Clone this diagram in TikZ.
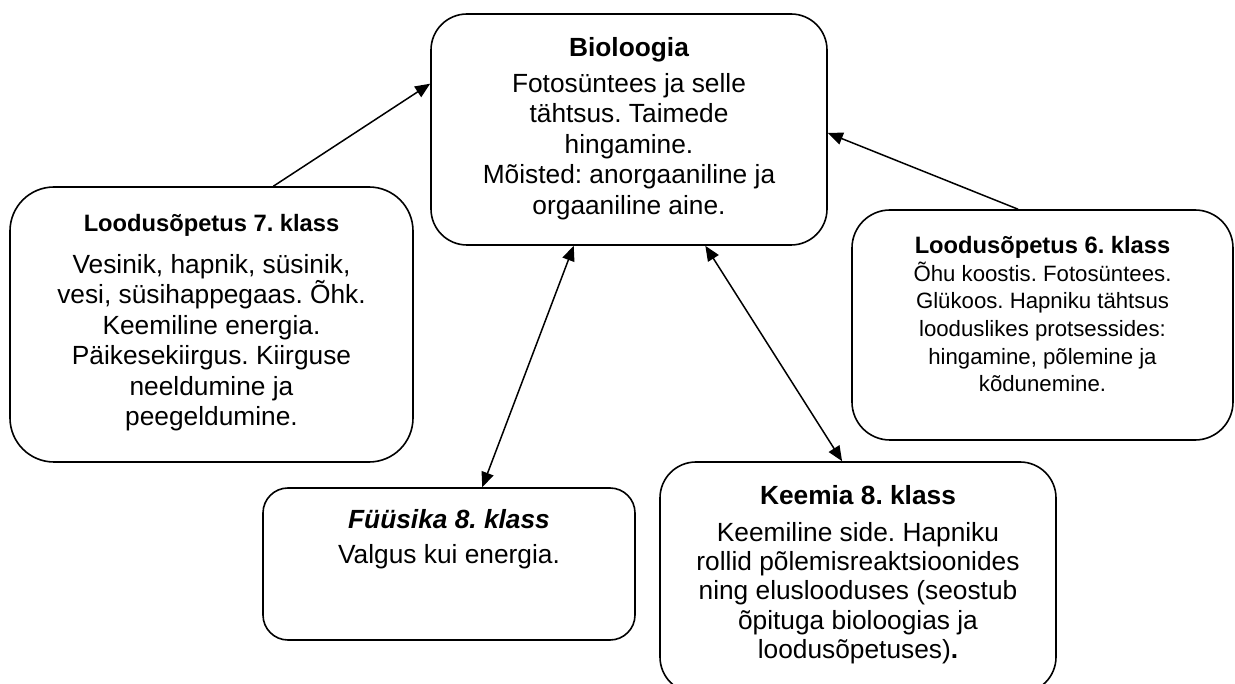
\documentclass[tikz,border=0pt]{standalone}
\usepackage{fontspec}
\setmainfont{Liberation Sans}
\usetikzlibrary{arrows.meta,calc}
\frenchspacing
\begin{document}
\begin{tikzpicture}[x=1pt,y=-1pt,
  box/.style={draw, line width=1.6pt, rounded corners=#1, inner sep=0pt},
  ttl/.style={anchor=base, inner sep=0pt, font=\bfseries\fontsize{26.3}{30}\selectfont},
  ttls/.style={anchor=base, inner sep=0pt, font=\bfseries\fontsize{23.7}{28}\selectfont},
  body/.style={anchor=base, inner sep=0pt},
  arr/.style={line width=1.5pt, -{Triangle[length=15pt,width=12.5pt]}},
  darr/.style={line width=1.5pt, {Triangle[length=15pt,width=12.5pt]}-{Triangle[length=15pt,width=12.5pt]}},
]
\useasboundingbox[fill=white] (0,0) rectangle (1235,684);

% boxes
\node[box=36pt, minimum width=396pt, minimum height=231pt] (bio) at (629,129.5) {};
\node[box=44pt, minimum width=403pt, minimum height=275pt] (l7) at (211.5,324.5) {};
\node[box=38pt, minimum width=381pt, minimum height=230pt] (l6) at (1042.5,325) {};
\node[box=25pt, minimum width=372pt, minimum height=152pt] (fy) at (449,564) {};
\node[box=36pt, minimum width=396pt, minimum height=231pt] (ke) at (858,577.5) {};

% Bioloogia
\node[ttl] (bioT) at ([yshift=-43pt]bio.north) {Bioloogia};
\node[body] (bioB) at ([yshift=-79pt]bio.north) {\parbox[t]{380pt}{\centering\fontsize{26.3}{30.5}\selectfont
Fotosüntees ja selle\\ tähtsus. Taimede\\ hingamine.\\ Mõisted: anorgaaniline ja\\ orgaaniline aine.}};

% Loodusõpetus 7
\node[ttls] (l7T) at ([yshift=-45pt]l7.north) {Loodusõpetus 7. klass};
\node[body] (l7B) at ([yshift=-87pt]l7.north) {\parbox[t]{390pt}{\centering\fontsize{26.3}{30.5}\selectfont
Vesinik, hapnik, süsinik,\\ vesi, süsihappegaas. Õhk.\\ Keemiline energia.\\ Päikesekiirgus. Kiirguse\\ neeldumine ja\\ peegeldumine.}};

% Loodusõpetus 6
\node[ttls] (l6T) at ([yshift=-44pt]l6.north) {Loodusõpetus 6. klass};
\node[body] (l6B) at ([yshift=-72pt]l6.north) {\parbox[t]{370pt}{\centering\fontsize{22.2}{27.7}\selectfont
Õhu koostis. Fotosüntees.\\ Glükoos. Hapniku tähtsus\\ looduslikes protsessides:\\ hingamine, põlemine ja\\ kõdunemine.}};

% Füüsika
\node[ttl, font=\bfseries\itshape\fontsize{26.3}{30}\selectfont] (fyT) at ([yshift=-41pt]fy.north) {Füüsika 8. klass};
\node[body] (fyB) at ([yshift=-76pt]fy.north) {\parbox[t]{360pt}{\centering\fontsize{26.3}{30.5}\selectfont
Valgus kui energia.}};

% Keemia
\node[ttl] (keT) at ([yshift=-43pt]ke.north) {Keemia 8. klass};
\node[body] (keB) at ([yshift=-80pt]ke.north) {\parbox[t]{385pt}{\centering\fontsize{26.3}{29.3}\selectfont
Keemiline side. Hapniku\\ rollid põlemisreaktsioonides\\ ning eluslooduses (seostub\\ õpituga bioloogias ja\\ loodusõpetuses)\textbf{.}}};

% connectors
\draw[arr] ($(l7.north west)!0.653!(l7.north east)$) -- ($(bio.north west)!0.303!(bio.south west)$);
\draw[arr] ($(l6.north west)!0.436!(l6.north east)$) -- ($(bio.north east)!0.515!(bio.south east)$);
\draw[darr] ($(bio.south west)!0.361!(bio.south east)$) -- ($(fy.north west)!0.589!(fy.north east)$);
\draw[darr] ($(bio.south west)!0.692!(bio.south east)$) -- ($(ke.north west)!0.46!(ke.north east)$);
\end{tikzpicture}
\end{document}
